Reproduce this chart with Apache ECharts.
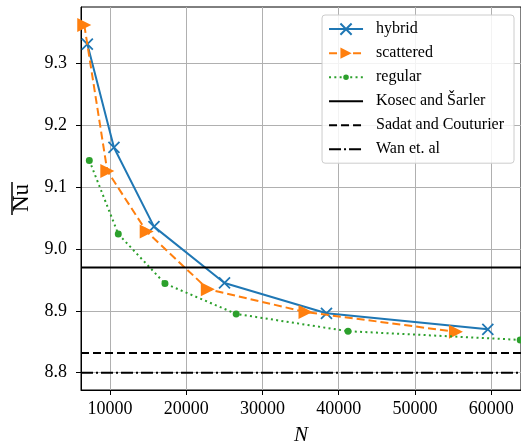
<!DOCTYPE html>
<html>
<head>
<meta charset="utf-8">
<script src="https://cdn.jsdelivr.net/npm/echarts@6/dist/echarts.min.js"></script>
<style>html,body{margin:0;padding:0;background:#fff}#c{width:521px;height:443px}</style>
</head>
<body>
<div id="c"></div>
<script>
// ---- data ----
const hybridN = [7030, 10520, 15770, 25020, 38390, 59550];
const hybridNu = [9.331, 9.164, 9.036, 8.945, 8.896, 8.870];
const scatteredN = [6630, 9650, 14810, 22830, 35640, 55370];
const scatteredNu = [9.362, 9.126, 9.028, 8.935, 8.898, 8.866];
const regularN = [7290, 11090, 17210, 26550, 41220, 63800];
const regularNu = [9.143, 9.024, 8.944, 8.895, 8.867, 8.853];
const refNames = ['Kosec and Šarler', 'Sadat and Couturier', 'Wan et. al'];
const refValues = [8.970, 8.832, 8.800];
const xTicks = [10000, 20000, 30000, 40000, 50000, 60000];
const yTicks = [8.8, 8.9, 9.0, 9.1, 9.2, 9.3];
const xRange = [6200, 63900];
const yRange = [8.772, 9.391];

const FONT = '"Liberation Serif", "DejaVu Serif", serif';
const zip = (a, b) => a.map((v, i) => [v, b[i]]);
const refStyles = ['solid', [8, 4], [12, 3, 2, 3]];
// small dot centred in a larger box so the legend dot stays small
const DOT = 'path://M0,0h0.01v0.01h-0.01z M20,20h0.01v0.01h-0.01z M5,10a5,5 0 1,0 10,0a5,5 0 1,0 -10,0z';

const chart = echarts.init(document.getElementById('c'), null, {renderer: 'canvas'});
const series = [
  {name: 'hybrid', type: 'line', data: zip(hybridN, hybridNu),
   lineStyle: {color: '#1f77b4', width: 2}, itemStyle: {color: 'none', borderColor: '#1f77b4', borderWidth: 1.8},
   symbol: 'path://M0,0L10,10M10,0L0,10', symbolSize: 11, showAllSymbol: true, z: 3},
  {name: 'scattered', type: 'line', data: zip(scatteredN, scatteredNu),
   lineStyle: {color: '#ff7f0e', width: 2, type: [8, 4]}, itemStyle: {color: '#ff7f0e', borderWidth: 0},
   symbol: 'path://M0,0L10,5L0,10Z', symbolSize: 14, z: 4},
  {name: 'regular', type: 'line', data: zip(regularN, regularNu),
   lineStyle: {color: '#2ca02c', width: 2, type: [2, 3.3]}, itemStyle: {color: '#2ca02c', borderWidth: 0},
   symbol: DOT, symbolSize: 14, z: 5}
];
refNames.forEach((n, i) => {
  series.push({name: n, type: 'line', data: [[xRange[0], refValues[i]], [xRange[1], refValues[i]]],
    symbol: 'none', lineStyle: {color: '#000', width: 2, type: refStyles[i]},
    itemStyle: {color: 'rgba(0,0,0,0)', borderWidth: 0}, z: 6});
});

chart.setOption({
  animation: false,
  grid: {left: 81, top: 7, right: 0, bottom: 53, show: true, borderColor: '#000', borderWidth: 1,
         containLabel: false, outerBoundsMode: 'none'},
  xAxis: {
    type: 'value', min: xRange[0], max: xRange[1],
    name: 'N', nameLocation: 'middle', nameGap: 35,
    nameTextStyle: {fontFamily: FONT, fontSize: 21, fontStyle: 'italic', color: '#000'},
    axisLine: {show: true, lineStyle: {color: '#000', width: 1}},
    axisTick: {show: true, length: 5, lineStyle: {color: '#000'}, customValues: xTicks},
    axisLabel: {customValues: xTicks, fontFamily: FONT, fontSize: 18, color: '#000', margin: 10,
      formatter: v => String(Math.round(v))},
    splitLine: {show: true, lineStyle: {color: '#b0b0b0', width: 1}}
  },
  yAxis: {
    type: 'value', min: yRange[0], max: yRange[1],
    axisLine: {show: true, lineStyle: {color: '#000', width: 1}},
    axisTick: {show: true, length: 5, lineStyle: {color: '#000'}, customValues: yTicks},
    axisLabel: {customValues: yTicks, fontFamily: FONT, fontSize: 18, color: '#000', margin: 14,
      formatter: v => v.toFixed(1)},
    splitLine: {show: true, lineStyle: {color: '#b0b0b0', width: 1}}
  },
  legend: {
    orient: 'vertical', right: 7, top: 15, padding: [6, 10, 6, 6],
    itemWidth: 34, itemHeight: 14, itemGap: 8,
    backgroundColor: 'rgba(255,255,255,0.85)', borderColor: '#cccccc', borderWidth: 1, borderRadius: 3,
    textStyle: {fontFamily: FONT, fontSize: 16, color: '#000', padding: [0, 0, 0, 8]},
    data: ['hybrid', 'scattered', 'regular'].concat(refNames)
  },
  graphic: [
    {type: 'text', x: 22, y: 198, rotation: Math.PI / 2,
     style: {text: 'Nu', font: '23px ' + FONT, fill: '#000', align: 'center', verticalAlign: 'middle'}},
    {type: 'line', shape: {x1: 12, y1: 182, x2: 12, y2: 215}, style: {stroke: '#000', lineWidth: 1.5}}
  ],
  series: series
});
</script>
</body>
</html>
